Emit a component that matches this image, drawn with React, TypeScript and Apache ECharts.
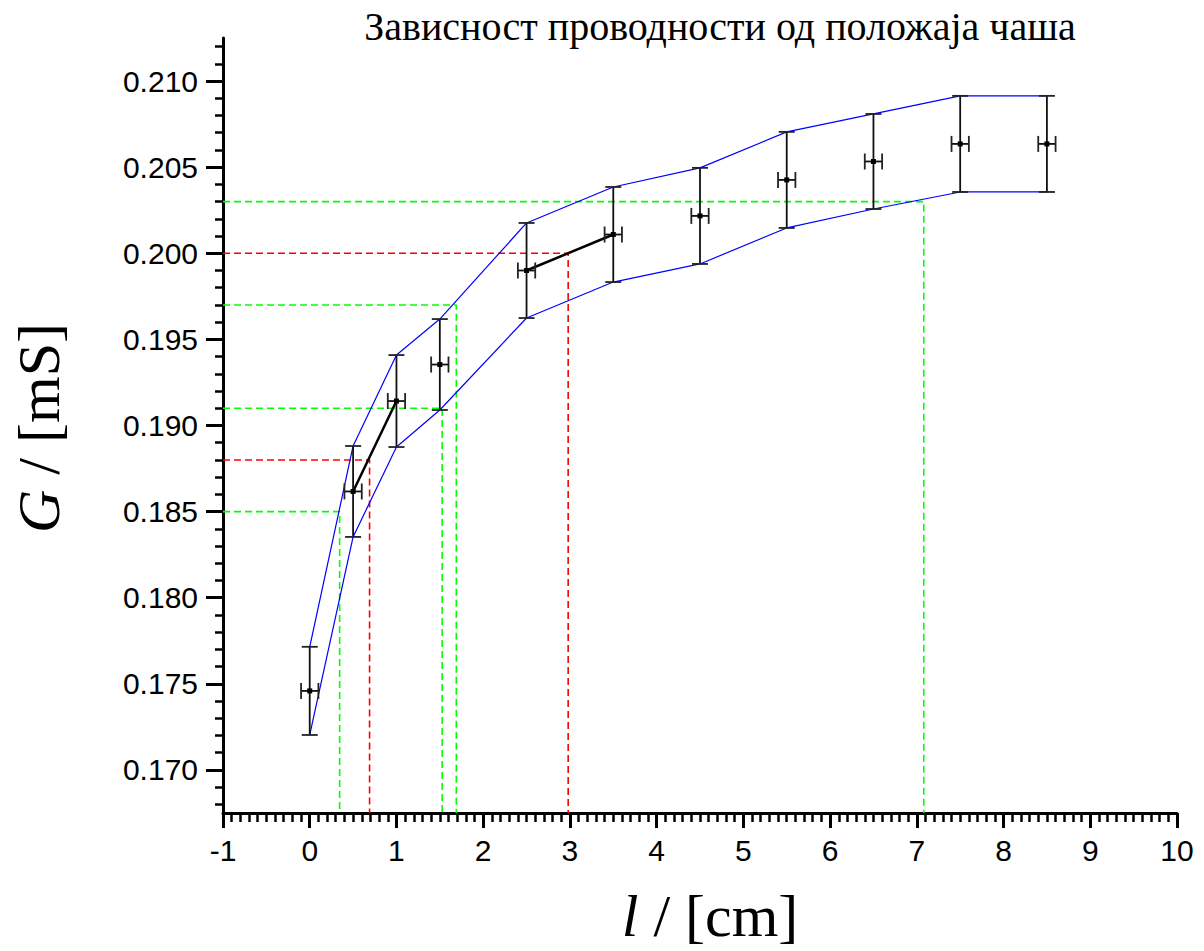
import React, { useEffect, useRef } from "react";
import * as echarts from "echarts";

// measured data: position l [cm], conductance G [mS], errors
const lValues = [0, 0.5, 1, 1.5, 2.5, 3.5, 4.5, 5.5, 6.5, 7.5, 8.5];
const gValues = [0.17459, 0.18617, 0.19142, 0.19354, 0.199, 0.20109, 0.20217, 0.20426, 0.20533, 0.20635, 0.20635];
const gErrors = [0.00256, 0.00264, 0.00267, 0.00264, 0.00276, 0.00276, 0.00279, 0.00279, 0.00276, 0.00279, 0.00279];
const lErrors = [0.1, 0.1, 0.1, 0.1, 0.1, 0.1, 0.1, 0.1, 0.1, 0.1, 0.1];

// index pairs of points joined by thick black segments
const tangentPairs = [
  [1, 2],
  [4, 5],
];

// guide (dashed) lines: G level and l where it meets the curve
const greenGuideG = [0.185, 0.191, 0.197, 0.203];
const greenGuideL = [0.345, 1.527, 1.69, 7.08];
const redGuideG = [0.188, 0.2];
const redGuideL = [0.69, 2.98];

const yTickLabels = [0.17, 0.175, 0.18, 0.185, 0.19, 0.195, 0.2, 0.205, 0.21];

const X_MIN = -1;
const X_MAX = 10;
const Y_MIN = 0.1675;
const Y_MAX = 0.2125;

export default function App() {
  const ref = useRef<HTMLDivElement>(null);

  useEffect(() => {
    if (!ref.current) return;
    const chart = echarts.init(ref.current, undefined, { renderer: "svg" });

    const upper = lValues.map((l, i) => [l, gValues[i] + gErrors[i]]);
    const lower = lValues.map((l, i) => [l, gValues[i] - gErrors[i]]);
    const errData = lValues.map((l, i) => [l, gValues[i], gErrors[i], lErrors[i]]);

    const guideSeries = (gs: number[], ls: number[], color: string) =>
      gs.map((g, i) => ({
        type: "line",
        silent: true,
        symbol: "none",
        z: 1,
        lineStyle: { color, width: 1.6, type: [7, 4] },
        data: [
          [X_MIN, g],
          [ls[i], g],
          [ls[i], Y_MIN],
        ],
      }));

    const option: any = {
      animation: false,
      grid: { left: 223, right: 27, top: 38, bottom: 138, containLabel: false },
      xAxis: {
        type: "value",
        min: X_MIN,
        max: X_MAX,
        interval: 1,
        axisLine: { onZero: false, lineStyle: { color: "#000", width: 3 } },
        axisTick: { length: 15, lineStyle: { color: "#000", width: 3 } },
        minorTick: { show: true, splitNumber: 10, length: 9, lineStyle: { color: "#000", width: 2.5 } },
        splitLine: { show: false },
        minorSplitLine: { show: false },
        axisLabel: {
          color: "#000",
          fontSize: 30,
          fontFamily: "Liberation Sans",
          margin: 22,
        },
      },
      yAxis: {
        type: "value",
        min: Y_MIN,
        max: Y_MAX,
        splitNumber: 9,
        axisLine: { onZero: false, lineStyle: { color: "#000", width: 3 } },
        axisTick: {
          length: 17,
          customValues: yTickLabels,
          lineStyle: { color: "#000", width: 3 },
        },
        minorTick: { show: true, splitNumber: 5, length: 8, lineStyle: { color: "#000", width: 2.5 } },
        splitLine: { show: false },
        minorSplitLine: { show: false },
        axisLabel: {
          color: "#000",
          fontSize: 30,
          fontFamily: "Liberation Sans",
          margin: 25,
          customValues: yTickLabels,
          formatter: (v: number) => v.toFixed(3),
        },
      },
      graphic: [
        {
          type: "text",
          x: 720,
          y: 26,
          style: {
            text: "Зависност проводности од положаја чаша",
            font: '40px "Liberation Serif"',
            fill: "#000",
            textAlign: "center",
            textVerticalAlign: "middle",
          },
        },
        {
          type: "text",
          x: 39,
          y: 428,
          rotation: Math.PI / 2,
          style: {
            text: "{i|G} / [mS]",
            font: '60px "Liberation Serif"',
            fill: "#000",
            textAlign: "center",
            textVerticalAlign: "middle",
            rich: {
              i: { fontStyle: "italic", fontSize: 60, fontFamily: "Liberation Serif", fill: "#000" },
            },
          },
        },
        {
          type: "text",
          x: 710,
          y: 916,
          style: {
            text: "{i|l} / [cm]",
            font: '60px "Liberation Serif"',
            fill: "#000",
            textAlign: "center",
            textVerticalAlign: "middle",
            rich: {
              i: { fontStyle: "italic", fontSize: 60, fontFamily: "Liberation Serif", fill: "#000" },
            },
          },
        },
      ],
      series: [
        ...guideSeries(greenGuideG, greenGuideL, "#00ff00"),
        ...guideSeries(redGuideG, redGuideL, "#ff0000"),
        {
          type: "line",
          silent: true,
          symbol: "none",
          z: 2,
          lineStyle: { color: "#0000ff", width: 1.2 },
          data: upper,
        },
        {
          type: "line",
          silent: true,
          symbol: "none",
          z: 2,
          lineStyle: { color: "#0000ff", width: 1.2 },
          data: lower,
        },
        ...tangentPairs.map(([a, b]) => ({
          type: "line",
          silent: true,
          symbol: "none",
          z: 3,
          lineStyle: { color: "#000", width: 2.5 },
          data: [
            [lValues[a], gValues[a]],
            [lValues[b], gValues[b]],
          ],
        })),
        {
          type: "custom",
          z: 4,
          silent: true,
          data: errData,
          encode: { x: 0, y: 1 },
          renderItem: (params: any, api: any) => {
            const x = api.value(0);
            const y = api.value(1);
            const ey = api.value(2);
            const ex = api.value(3);
            const top = api.coord([x, y + ey]);
            const bot = api.coord([x, y - ey]);
            const left = api.coord([x - ex, y]);
            const right = api.coord([x + ex, y]);
            const c = api.coord([x, y]);
            const cap = 8;
            const capStyle = { stroke: "#222", lineWidth: 1.8 };
            return {
              type: "group",
              children: [
                { type: "line", shape: { x1: top[0], y1: top[1], x2: bot[0], y2: bot[1] }, style: { stroke: "#111", lineWidth: 1.8 } },
                { type: "line", shape: { x1: top[0] - cap, y1: top[1], x2: top[0] + cap, y2: top[1] }, style: capStyle },
                { type: "line", shape: { x1: bot[0] - cap, y1: bot[1], x2: bot[0] + cap, y2: bot[1] }, style: capStyle },
                { type: "line", shape: { x1: left[0], y1: left[1], x2: right[0], y2: right[1] }, style: { stroke: "#111", lineWidth: 1.8 } },
                { type: "line", shape: { x1: left[0], y1: left[1] - cap, x2: left[0], y2: left[1] + cap }, style: capStyle },
                { type: "line", shape: { x1: right[0], y1: right[1] - cap, x2: right[0], y2: right[1] + cap }, style: capStyle },
                { type: "rect", shape: { x: c[0] - 2.5, y: c[1] - 2.5, width: 5, height: 5 }, style: { fill: "#000" } },
              ],
            };
          },
        },
      ],
    };

    chart.setOption(option);
    return () => chart.dispose();
  }, []);

  return <div ref={ref} style={{ width: 1204, height: 951, position: "absolute", left: 0, top: 0 }} />;
}
